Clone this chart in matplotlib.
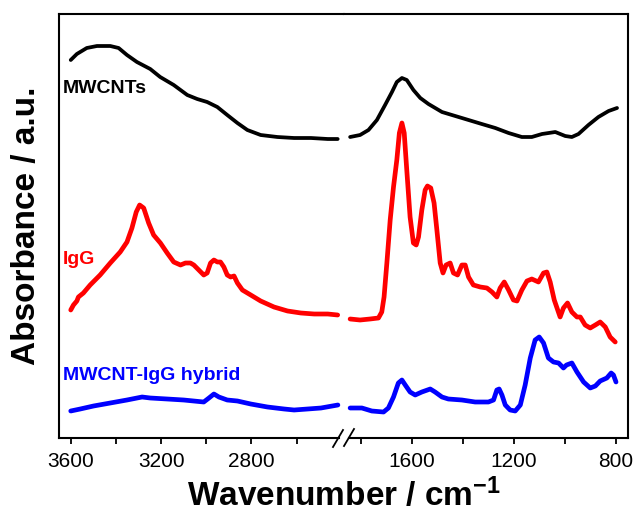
import matplotlib
matplotlib.use("Agg")
import matplotlib.pyplot as plt
from matplotlib.lines import Line2D

plt.rcParams["font.family"] = ["Liberation Sans", "DejaVu Sans"]
plt.rcParams["mathtext.fontset"] = "custom"
plt.rcParams["mathtext.bf"] = "Liberation Sans:bold"
plt.rcParams["mathtext.default"] = "bf"

# --- MWCNTs (black), high and low wavenumber parts
mwcnt_wn_hi = [3600, 3573, 3529, 3484, 3425, 3388, 3351, 3307, 3248, 3204, 3144, 3084,
               3040, 2996, 2951, 2907, 2862, 2818, 2759, 2685, 2611, 2536, 2462, 2418]
mwcnt_abs_hi = [3.78, 3.84, 3.90, 3.92, 3.92, 3.90, 3.83, 3.76, 3.69, 3.61, 3.53, 3.43,
                3.39, 3.36, 3.31, 3.23, 3.15, 3.08, 3.03, 3.01, 3.00, 3.00, 2.99, 2.99]
mwcnt_wn_lo = [1842, 1803, 1770, 1737, 1705, 1678, 1659, 1639, 1620, 1594, 1567, 1535,
               1482, 1430, 1378, 1326, 1273, 1221, 1169, 1130, 1090, 1038, 999, 973,
               947, 908, 869, 829, 796]
mwcnt_abs_lo = [3.01, 3.03, 3.08, 3.18, 3.33, 3.46, 3.56, 3.60, 3.58, 3.48, 3.40, 3.34,
                3.26, 3.22, 3.18, 3.14, 3.10, 3.05, 3.01, 3.01, 3.04, 3.06, 3.02, 3.01,
                3.04, 3.13, 3.21, 3.27, 3.30]

# --- IgG (red)
igg_wn_hi = [3600, 3588, 3573, 3566, 3544, 3514, 3470, 3425, 3381, 3351, 3329, 3310,
             3295, 3277, 3255, 3233, 3203, 3173, 3144, 3114, 3092, 3070, 3055, 3033,
             3011, 2996, 2981, 2966, 2951, 2937, 2922, 2907, 2892, 2877, 2862, 2840,
             2803, 2759, 2700, 2640, 2581, 2522, 2462, 2418]
igg_abs_hi = [1.28, 1.33, 1.37, 1.41, 1.45, 1.53, 1.63, 1.75, 1.86, 1.96, 2.10, 2.26,
              2.33, 2.30, 2.15, 2.03, 1.95, 1.85, 1.76, 1.73, 1.75, 1.75, 1.73, 1.68,
              1.63, 1.65, 1.75, 1.78, 1.76, 1.76, 1.71, 1.63, 1.61, 1.62, 1.55, 1.48,
              1.43, 1.37, 1.31, 1.27, 1.25, 1.24, 1.24, 1.23]
igg_wn_lo = [1842, 1803, 1764, 1731, 1718, 1709, 1698, 1685, 1672, 1659, 1649, 1639,
             1630, 1620, 1607, 1594, 1583, 1574, 1561, 1548, 1539, 1526, 1513, 1502,
             1489, 1478, 1466, 1450, 1437, 1421, 1404, 1391, 1378, 1359, 1332, 1306,
             1286, 1267, 1254, 1238, 1221, 1202, 1188, 1169, 1149, 1130, 1104, 1084,
             1071, 1058, 1042, 1019, 1006, 990, 973, 953, 940, 921, 901, 881, 862,
             842, 823, 803]
igg_abs_lo = [1.19, 1.18, 1.19, 1.20, 1.26, 1.41, 1.75, 2.18, 2.51, 2.78, 3.05, 3.15,
              3.05, 2.68, 2.21, 1.95, 1.93, 2.01, 2.28, 2.48, 2.52, 2.50, 2.35, 2.08,
              1.75, 1.65, 1.73, 1.75, 1.65, 1.63, 1.73, 1.73, 1.61, 1.53, 1.51, 1.50,
              1.46, 1.41, 1.50, 1.56, 1.48, 1.38, 1.37, 1.48, 1.57, 1.59, 1.56, 1.65,
              1.66, 1.56, 1.38, 1.21, 1.30, 1.35, 1.26, 1.21, 1.21, 1.13, 1.10, 1.13,
              1.16, 1.11, 1.01, 0.96]

# --- MWCNT-IgG hybrid (blue)
hyb_wn_hi = [3600, 3558, 3499, 3425, 3351, 3284, 3248, 3173, 3100, 3011, 2988, 2966,
             2944, 2907, 2862, 2803, 2729, 2655, 2611, 2551, 2492, 2417]
hyb_abs_hi = [0.27, 0.29, 0.32, 0.35, 0.38, 0.41, 0.40, 0.39, 0.38, 0.36, 0.40, 0.44,
              0.41, 0.38, 0.37, 0.34, 0.31, 0.29, 0.28, 0.29, 0.30, 0.33]
hyb_wn_lo = [1842, 1796, 1757, 1711, 1692, 1672, 1653, 1639, 1626, 1607, 1587, 1561,
             1528, 1509, 1482, 1457, 1404, 1352, 1300, 1280, 1267, 1258, 1247, 1234,
             1215, 1195, 1175, 1156, 1136, 1117, 1101, 1084, 1065, 1045, 1025, 1006,
             994, 973, 953, 927, 901, 881, 862, 836, 819, 810, 800]
hyb_abs_lo = [0.30, 0.30, 0.27, 0.26, 0.30, 0.41, 0.55, 0.58, 0.53, 0.46, 0.43, 0.46,
              0.49, 0.46, 0.41, 0.39, 0.38, 0.36, 0.36, 0.38, 0.48, 0.49, 0.43, 0.33,
              0.28, 0.27, 0.33, 0.53, 0.80, 0.98, 1.01, 0.95, 0.80, 0.76, 0.75, 0.70,
              0.73, 0.75, 0.66, 0.56, 0.50, 0.52, 0.57, 0.60, 0.65, 0.63, 0.56]

W, H = 636, 512


def box(x0, x1, y0=14, y1=438):
    return [x0 / W, 1 - y1 / H, (x1 - x0) / W, (y1 - y0) / H]


fig = plt.figure(figsize=(W / 100, H / 100), dpi=100)
ax_hi = fig.add_axes(box(59, 344))
ax_lo = fig.add_axes(box(344, 628))

series = [
    (mwcnt_wn_hi, mwcnt_abs_hi, mwcnt_wn_lo, mwcnt_abs_lo, "black", 2.7),
    (igg_wn_hi, igg_abs_hi, igg_wn_lo, igg_abs_lo, "#ff0000", 3.4),
    (hyb_wn_hi, hyb_abs_hi, hyb_wn_lo, hyb_abs_lo, "#0000ff", 3.4),
]
for wn_hi, a_hi, wn_lo, a_lo, color, lw in series:
    ax_hi.plot(wn_hi, a_hi, color=color, lw=lw, solid_capstyle="round",
               solid_joinstyle="round")
    ax_lo.plot(wn_lo, a_lo, color=color, lw=lw, solid_capstyle="round",
               solid_joinstyle="round")

ax_hi.set_xlim(3652, 2390)
ax_lo.set_xlim(1866, 753)
ax_hi.set_xticks([3600, 3200, 2800])
ax_hi.set_xticks([3400, 3000, 2600], minor=True)
ax_lo.set_xticks([1600, 1200, 800])
ax_lo.set_xticks([1800, 1400, 1000], minor=True)

for ax in (ax_hi, ax_lo):
    ax.set_ylim(0, 4.24)
    ax.set_yticks([])
    for sp in ax.spines.values():
        sp.set_linewidth(1.5)
    ax.tick_params(axis="x", which="both", direction="out", length=4, width=1.3,
                   labelsize=15, pad=6)

ax_hi.spines["right"].set_visible(False)
ax_lo.spines["left"].set_visible(False)
ax_hi.spines["bottom"].set_bounds(3652, 2412)
ax_lo.spines["bottom"].set_bounds(1846, 753)

# break marks on the x axis
for x0, y0, x1, y1 in [(333, 447, 343, 430), (344, 446, 354, 429)]:
    fig.add_artist(Line2D([x0 / W, x1 / W], [1 - y0 / H, 1 - y1 / H],
                          transform=fig.transFigure, color="black", lw=1.3))

ax_hi.text(3634, 3.50, "MWCNTs", color="black", fontsize=14, fontweight="bold",
           va="center", ha="left")
ax_hi.text(3634, 1.78, "IgG", color="#ff0000", fontsize=14, fontweight="bold",
           va="center", ha="left")
ax_hi.text(3634, 0.62, "MWCNT-IgG hybrid", color="#0000ff", fontsize=14,
           fontweight="bold", va="center", ha="left")

fig.text(27 / W, 1 - 226 / H, "Absorbance / a.u.", rotation=90, fontsize=24,
         fontweight="bold", ha="center", va="center")
fig.text(343.5 / W, 1 - 506 / H, "Wavenumber / cm$^{-1}$", fontsize=24,
         fontweight="bold", ha="center", va="baseline")

fig.savefig("out.png", dpi=100)
